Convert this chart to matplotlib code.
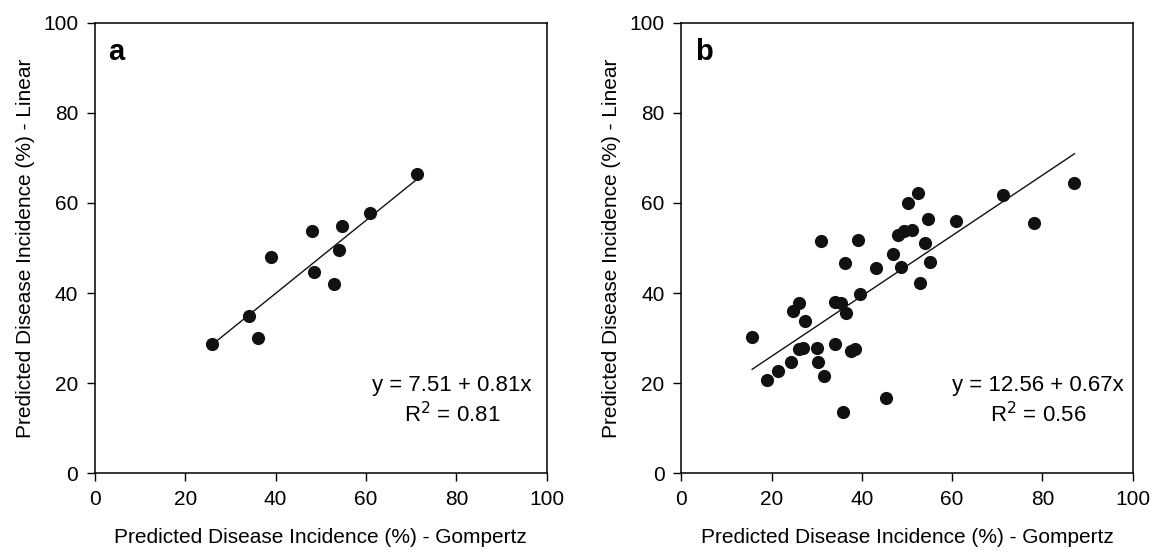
import numpy as np
import matplotlib
matplotlib.use("Agg")
import matplotlib.pyplot as plt

plt.rcParams['font.family'] = ['Liberation Sans Narrow', 'Liberation Sans', 'DejaVu Sans']

# panel a: Gompertz vs Linear predictions
gomp_a = [25.9, 36.2, 34.1, 39.1, 48.0, 48.6, 52.9, 54.0, 54.6, 60.8, 71.3]
lin_a = [28.8, 30.0, 34.9, 47.9, 53.8, 44.6, 42.1, 49.6, 54.8, 57.8, 66.4]

# panel b
gomp_b = [15.7, 19.1, 21.5, 24.4, 24.7, 26.1, 26.0, 27.0, 27.5, 30.0,
          30.2, 31.7, 30.9, 34.0, 34.0, 35.4, 35.8, 36.2, 36.6, 37.6,
          38.5, 39.1, 39.7, 43.1, 45.3, 47.0, 47.9, 48.6, 49.3, 50.3,
          51.1, 52.4, 52.9, 54.0, 54.6, 55.2, 60.9, 71.3, 78.2, 87.1]
lin_b = [30.2, 20.6, 22.8, 24.7, 36.0, 37.9, 27.6, 27.7, 33.9, 27.7,
         24.8, 21.7, 51.5, 28.7, 38.1, 37.7, 13.6, 46.6, 35.5, 27.2,
         27.5, 51.8, 39.8, 45.5, 16.6, 48.7, 52.8, 45.7, 53.8, 59.9,
         54.1, 62.1, 42.2, 51.0, 56.4, 47.0, 56.1, 61.8, 55.5, 64.5]

fits = [(7.51, 0.81, "0.81"), (12.56, 0.67, "0.56")]
letters = ["a", "b"]
ticks = [0, 20, 40, 60, 80, 100]

fig = plt.figure(figsize=(11.51, 5.58), dpi=100)
ax_a = fig.add_axes([0.0823, 0.1518, 0.3927, 0.8075])
ax_b = fig.add_axes([0.5919, 0.1518, 0.3922, 0.8075])

for ax, xs, ys, (b0, b1, r2), letter in zip([ax_a, ax_b], [gomp_a, gomp_b], [lin_a, lin_b], fits, letters):
    ax.scatter(xs, ys, s=90, color="#111111", zorder=3, linewidths=0)
    xl = np.array([min(xs), max(xs)])
    ax.plot(xl, b0 + b1 * xl, color="#111111", lw=1.0, zorder=2)
    ax.set_xlim(0, 100)
    ax.set_ylim(0, 100)
    ax.set_xticks(ticks)
    ax.set_yticks(ticks)
    ax.tick_params(direction="out", length=6, width=1, labelsize=15, pad=6)
    for sp in ax.spines.values():
        sp.set_linewidth(1.1)
    ax.set_xlabel("Predicted Disease Incidence (%) - Gompertz", fontsize=15, labelpad=14)
    ax.set_ylabel("Predicted Disease Incidence (%) - Linear", fontsize=15, labelpad=6)
    ax.text(0.03, 0.935, letter, transform=ax.transAxes, fontsize=21,
            fontweight="bold", va="center", ha="left", family=['Liberation Sans', 'DejaVu Sans'])
    ax.text(0.79, 0.195, f"y = {b0:.2f} + {b1:.2f}x", transform=ax.transAxes,
            fontsize=16, ha="center", va="center")
    ax.text(0.79, 0.13, f"R$^2$ = {r2}", transform=ax.transAxes,
            fontsize=16, ha="center", va="center")

fig.savefig("out.png", dpi=100)
